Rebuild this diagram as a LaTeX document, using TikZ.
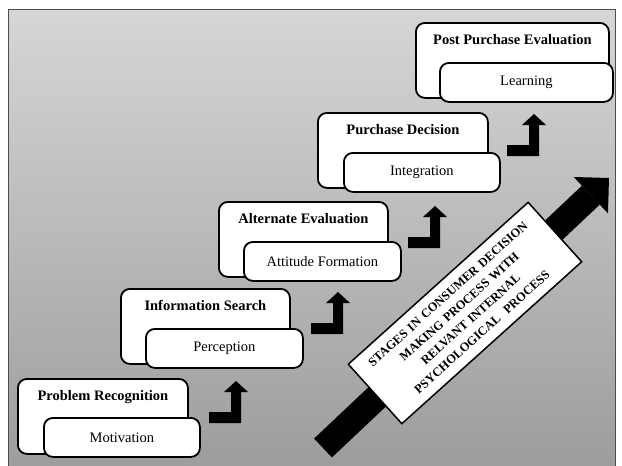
\documentclass[tikz,border=0pt]{standalone}
\usepackage{fontspec}
\setmainfont{Liberation Serif}
\usepackage{tikz}
\usetikzlibrary{arrows.meta,positioning}

\definecolor{bgtop}{RGB}{214,214,214}
\definecolor{bgbottom}{RGB}{156,156,156}

\begin{document}
\begin{tikzpicture}[x=1pt,y=-1pt]
			\tikzstyle{Frame}	= [draw=gray!60!black, line width=0.8pt, top color=bgtop, bottom color=bgbottom]
			\tikzstyle{Box}		= [draw, line width=1.8pt, fill=white, rounded corners=9pt, inner sep=0pt]
			\tikzstyle{Outer}	= [Box, anchor=north west, minimum height=75pt]
			\tikzstyle{Inner}	= [Box, minimum height=39pt, font=\fontsize{14.5}{17}\selectfont]
			\tikzstyle{Title}	= [anchor=base, inner sep=0pt, font=\fontsize{14.5}{17}\selectfont\bfseries]
			\tikzstyle{Bent}	= [fill=black]
			\tikzstyle{Note}	= [draw, line width=1.5pt, fill=white, minimum width=242pt, minimum height=80pt, text width=236pt, align=center, inner sep=0pt, font=\fontsize{12.5}{17}\selectfont\bfseries]
			\tikzstyle{BigArrow}	= [line width=26pt, -{Triangle[width=50pt,length=25pt,line width=0pt]}]

			\useasboundingbox (0,0) rectangle (622,466);
			\path [Frame] (8,9) rectangle (615,472);

			% stages, lowest first
			\node (pr) at (17,378) [Outer, minimum width=170pt] {};
			\node (prt) at ([yshift=-22pt]pr.north) [Title] {Problem Recognition};
			\node (mot) [Inner, minimum width=156pt, below right=39pt and 26pt of pr.north west] {Motivation};

			\node (is) at (120,288) [Outer, minimum width=169pt] {};
			\node (ist) at ([yshift=-22pt]is.north) [Title] {Information Search};
			\node (per) [Inner, minimum width=157pt, below right=40pt and 25pt of is.north west] {Perception};

			\node (ae) at (218,201) [Outer, minimum width=169pt] {};
			\node (aet) at ([yshift=-22pt]ae.north) [Title] {Alternate Evaluation};
			\node (att) [Inner, minimum width=157pt, below right=40pt and 25pt of ae.north west] {Attitude Formation};

			\node (pd) at (317,112) [Outer, minimum width=170pt] {};
			\node (pdt) at ([yshift=-22pt]pd.north) [Title] {Purchase Decision};
			\node (int) [Inner, minimum width=156pt, below right=40pt and 26pt of pd.north west] {Integration};

			\node (ppe) at (415,22) [Outer, minimum width=193pt] {};
			\node (ppet) at ([yshift=-22pt]ppe.north) [Title] {Post Purchase Evaluation};
			\node (lea) [Inner, minimum width=173pt, below right=40pt and 24pt of ppe.north west] {Learning};

			% bent arrows between the stages
			\fill [Bent, shift={(209,412)}] (0,0) -- (22,0) -- (22,-20) -- (15,-20) -- (27,-31) -- (39,-20) -- (32,-20) -- (32,11) -- (0,11) -- cycle;
			\fill [Bent, shift={(311,323)}] (0,0) -- (22,0) -- (22,-20) -- (15,-20) -- (27,-31) -- (39,-20) -- (32,-20) -- (32,11) -- (0,11) -- cycle;
			\fill [Bent, shift={(408,237)}] (0,0) -- (22,0) -- (22,-20) -- (15,-20) -- (27,-31) -- (39,-20) -- (32,-20) -- (32,11) -- (0,11) -- cycle;
			\fill [Bent, shift={(507,145)}] (0,0) -- (22,0) -- (22,-20) -- (15,-20) -- (27,-31) -- (39,-20) -- (32,-20) -- (32,11) -- (0,11) -- cycle;

			% big diagonal arrow with the caption box on it
			\coordinate (tail) at (323,448);
			\coordinate (tip) at (609,178);
			\draw [BigArrow] (tail) -- (tip);
			\node (note) at (465,313) [Note, rotate=42] {STAGES IN CONSUMER DECISION\\ MAKING PROCESS WITH\\ RELVANT INTERNAL\\ PSYCHOLOGICAL\ \ PROCESS};
\end{tikzpicture}
\end{document}
